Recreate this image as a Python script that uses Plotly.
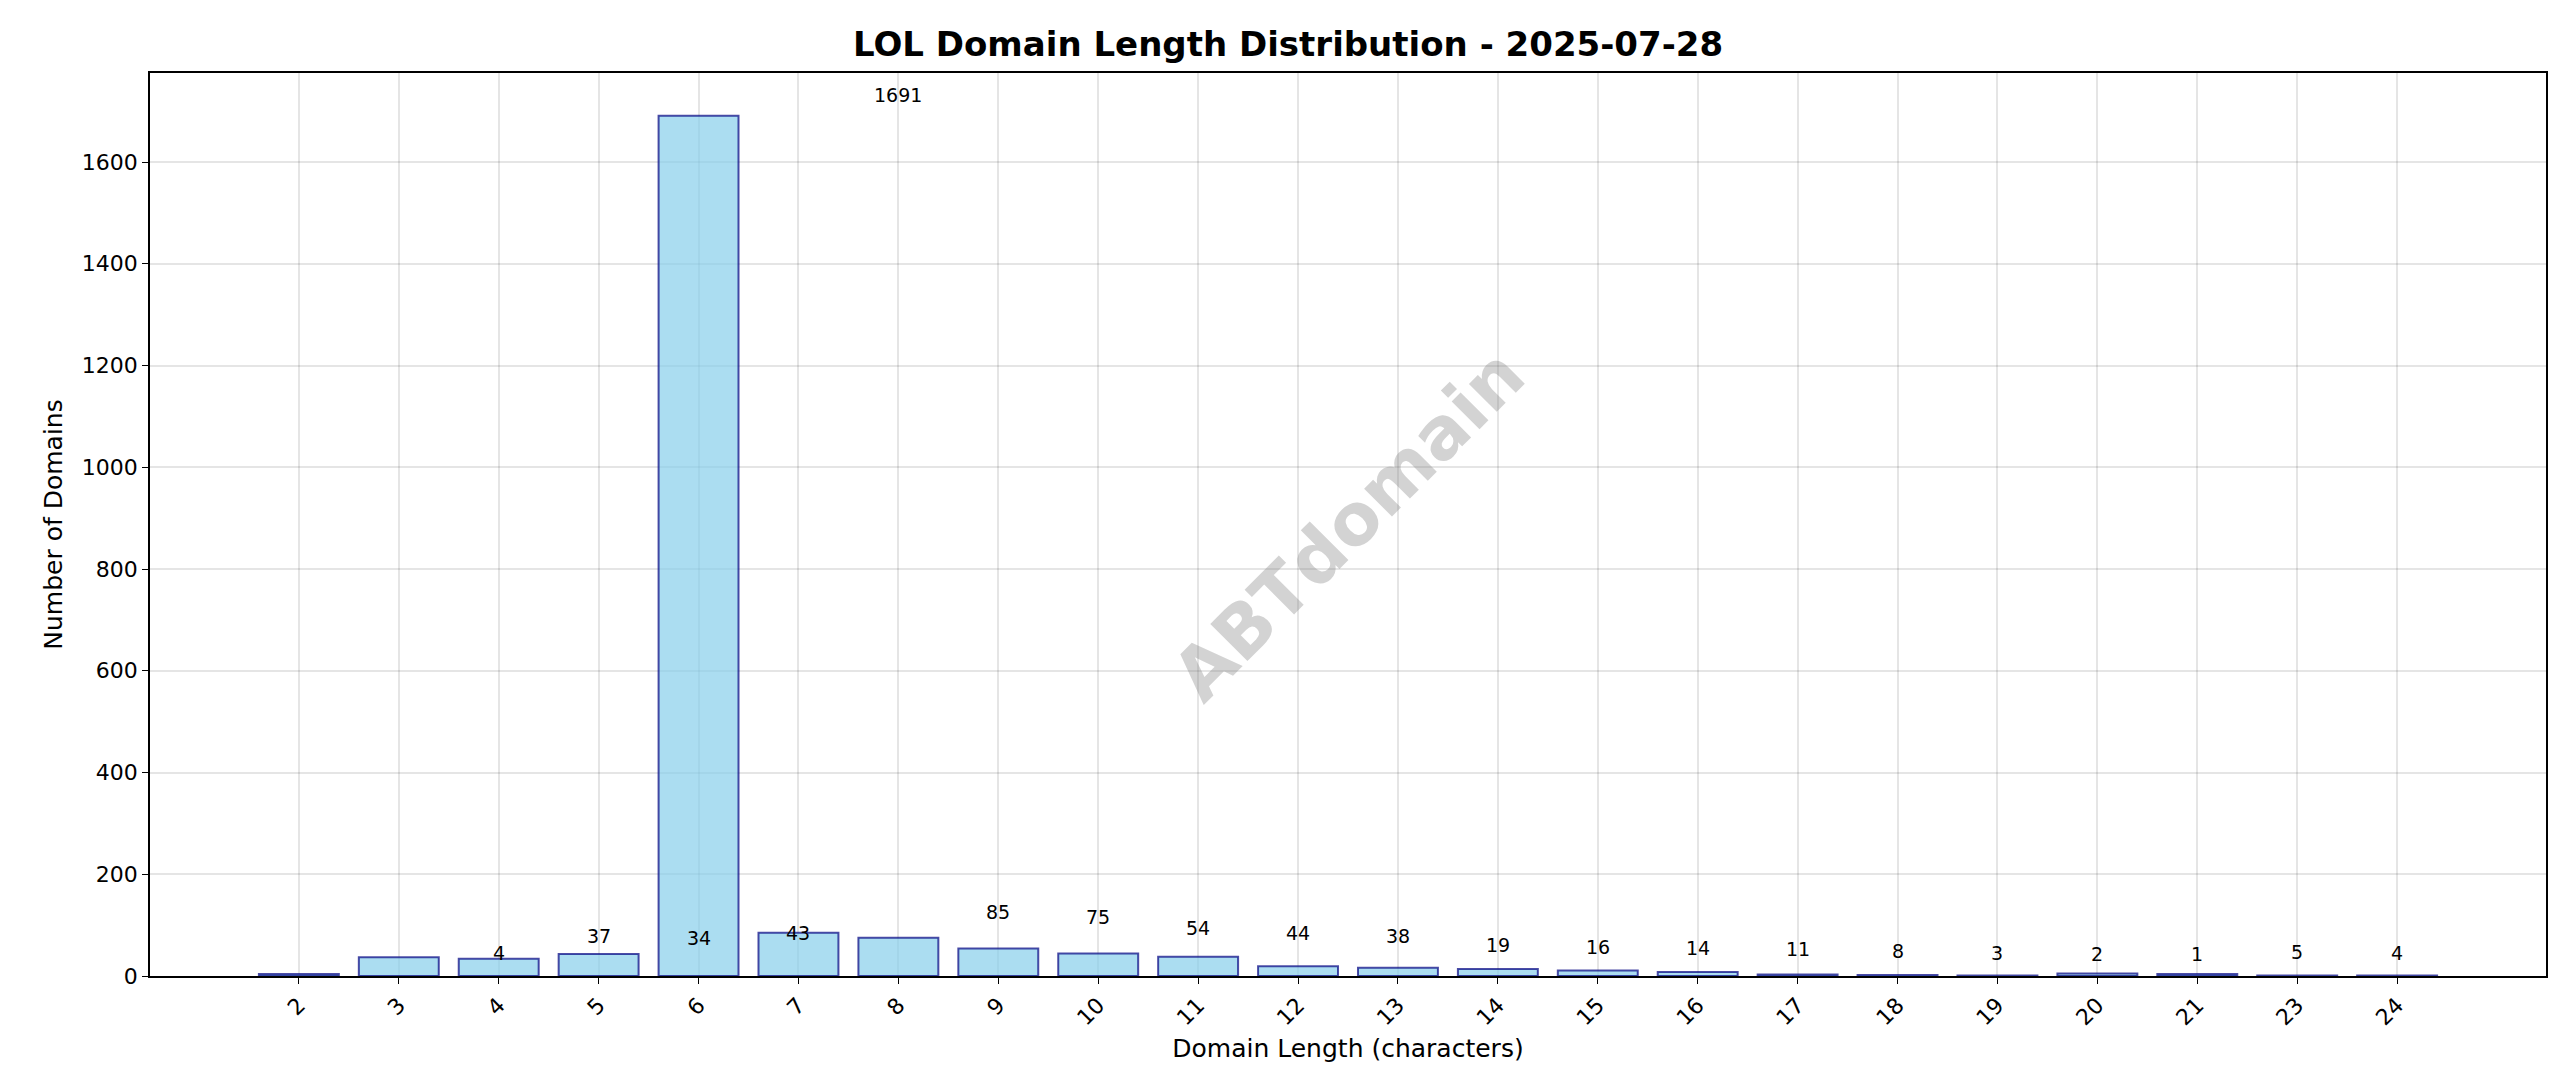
import plotly.graph_objects as go

lengths = ["2", "3", "4", "5", "6", "7", "8", "9", "10", "11", "12", "13", "14", "15", "16", "17", "18", "19", "20", "21", "23", "24"]
counts = [4, 37, 34, 43, 1691, 85, 75, 54, 44, 38, 19, 16, 14, 11, 8, 3, 2, 1, 5, 4, 1, 1]

fig = go.Figure(
    go.Bar(
        x=lengths,
        y=counts,
        width=0.8,
        marker=dict(color="rgba(135,206,235,0.7)", line=dict(color="rgba(0,0,128,0.7)", width=2)),
    )
)

# value labels a little above each bar, like matplotlib's text offset
for L, c in zip(lengths, counts):
    fig.add_annotation(x=L, y=c, text=str(c), showarrow=False, yanchor="bottom", yshift=8,
                       font=dict(size=19, color="black"))

axis_common = dict(
    showline=True, linecolor="black", linewidth=1.5, mirror=True,
    showgrid=True, gridcolor="rgba(0,0,0,0.1)", gridwidth=1.5,
    ticks="outside", ticklen=6, tickcolor="black",
    tickfont=dict(size=22, color="black"), zeroline=False,
)

fig.update_layout(
    width=2560, height=1087,
    margin=dict(l=142, r=22, t=65, b=119),
    plot_bgcolor="white", paper_bgcolor="white",
    font=dict(family="DejaVu Sans", color="black"),
    title=dict(text="<b>LOL Domain Length Distribution - 2025-07-28</b>", x=0.5, xanchor="center",
               y=0.967, yanchor="middle", font=dict(size=34)),
    showlegend=False,
)
fig.update_xaxes(**axis_common, tickangle=-45, range=[-1.49, 22.49],
                 title=dict(text="Domain Length (characters)", font=dict(size=25), standoff=10))
fig.update_yaxes(**axis_common, range=[0, 1775], dtick=200,
                 title=dict(text="Number of Domains", font=dict(size=25), standoff=12))

fig.add_annotation(text="<b>ABTdomain</b>", xref="paper", yref="paper", x=0.5, y=0.5,
                   showarrow=False, textangle=-45, font=dict(size=72, color="rgba(128,128,128,0.35)"))

fig.write_html("out.html")
